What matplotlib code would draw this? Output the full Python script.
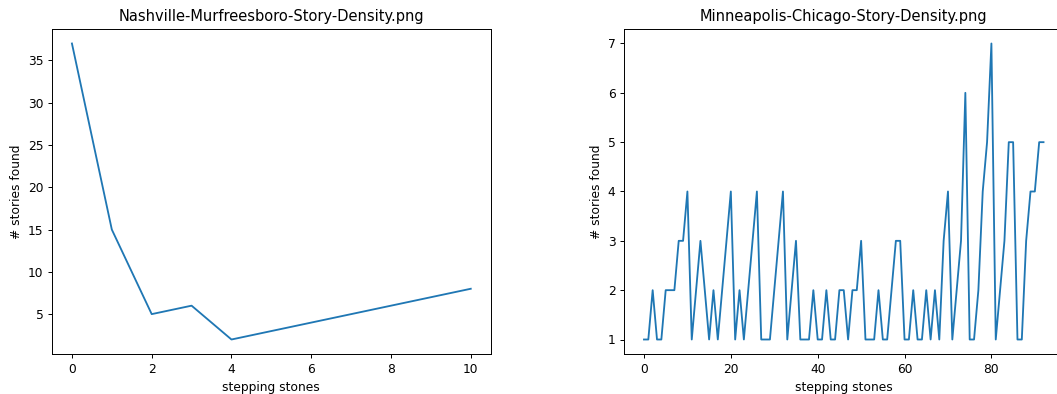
import matplotlib
matplotlib.use('Agg')
import matplotlib.pyplot as plt

# Nashville-Murfreesboro
nash_x = [0, 1, 2, 3, 4, 10]
nash_y = [37, 15, 5, 6, 2, 8]

# Minneapolis-Chicago (one value per stepping stone, 0..92)
minn_y = [1, 1, 2, 1, 1, 2, 2, 2, 3, 3,
          4, 1, 2, 3, 2, 1, 2, 1, 2, 3,
          4, 1, 2, 1, 2, 3, 4, 1, 1, 1,
          2, 3, 4, 1, 2, 3, 1, 1, 1, 2,
          1, 1, 2, 1, 1, 2, 2, 1, 2, 2,
          3, 1, 1, 1, 2, 1, 1, 2, 3, 3,
          1, 1, 2, 1, 1, 2, 1, 2, 1, 3,
          4, 1, 2, 3, 6, 1, 1, 2, 4, 5,
          7, 1, 2, 3, 5, 5, 1, 1, 3, 4,
          4, 5, 5]
minn_x = list(range(len(minn_y)))

DPI = 88
fig = plt.figure(figsize=(1057 / DPI, 394 / DPI), dpi=DPI)
# right-hand axes runs a little past the edge of the picture, as in the crop
ax1 = fig.add_axes([52 / 1057, 39.7 / 394, 438.7 / 1057, 325.6 / 394])
ax2 = fig.add_axes([624 / 1057, 39.7 / 394, 439.5 / 1057, 325.6 / 394])

ax1.plot(nash_x, nash_y)
ax1.set_title('Nashville-Murfreesboro-Story-Density.png')
ax1.set_xlabel('stepping stones')
ax1.set_ylabel('# stories found')

ax2.plot(minn_x, minn_y)
ax2.set_title('Minneapolis-Chicago-Story-Density.png')
ax2.set_xlabel('stepping stones')
ax2.set_ylabel('# stories found')

fig.savefig('out.png', dpi=DPI)
